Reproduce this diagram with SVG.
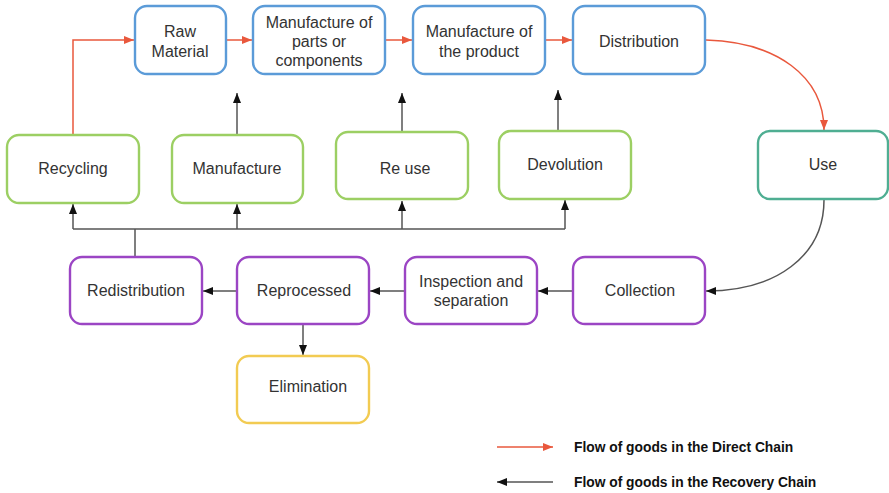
<svg xmlns="http://www.w3.org/2000/svg" width="889" height="493" viewBox="0 0 889 493">
  <style>
    .box { fill: #ffffff; stroke-width: 2.4; }
    .blue { stroke: #5b9bd8; }
    .green { stroke: #9ccf63; }
    .teal { stroke: #4fae92; }
    .purple { stroke: #9b45c4; }
    .yellow { stroke: #f2cb52; }
    .lbl { font-family: "Liberation Sans", Arial, sans-serif; font-size: 16px; fill: #333333; text-anchor: middle; }
    .red { fill: none; stroke: #e9583d; stroke-width: 1.5; }
    .blk { fill: none; stroke: #555555; stroke-width: 1.5; }
    .legend { font-family: "Liberation Sans", Arial, sans-serif; font-size: 13.8px; font-weight: bold; fill: #111111; }
  </style>
  <defs>
    <marker id="ahRed" viewBox="0 0 10 8" refX="10" refY="4" markerWidth="10" markerHeight="8" markerUnits="userSpaceOnUse" orient="auto">
      <path d="M0,0 L10,4 L0,8 Z" fill="#e9583d"/>
    </marker>
    <marker id="ahBlk" viewBox="0 0 10 8" refX="10" refY="4" markerWidth="10" markerHeight="8" markerUnits="userSpaceOnUse" orient="auto">
      <path d="M0,0 L10,4 L0,8 Z" fill="#111111"/>
    </marker>
  </defs>

  <rect width="889" height="493" fill="#ffffff"/>

  <!-- connectors -->
  <g id="connectors">
    <!-- direct chain -->
    <path class="red" d="M73,135 V40 H134" marker-end="url(#ahRed)"/>
    <path class="red" d="M227,40 H252" marker-end="url(#ahRed)"/>
    <path class="red" d="M386,40 H412" marker-end="url(#ahRed)"/>
    <path class="red" d="M546,40 H572" marker-end="url(#ahRed)"/>
    <path class="red" d="M706,40 C776,42 824,76 824,130" marker-end="url(#ahRed)"/>
    <!-- recovery chain -->
    <path class="blk" d="M824,200 C824,256 776,291 706,291" marker-end="url(#ahBlk)"/>
    <path class="blk" d="M572,291 H538" marker-end="url(#ahBlk)"/>
    <path class="blk" d="M404,291 H370" marker-end="url(#ahBlk)"/>
    <path class="blk" d="M236,291 H203" marker-end="url(#ahBlk)"/>
    <path class="blk" d="M303,325 V355" marker-end="url(#ahBlk)"/>
    <!-- distribution bus -->
    <path class="blk" d="M135,256 V229"/>
    <path class="blk" d="M73,229 H565"/>
    <path class="blk" d="M73,229 V204" marker-end="url(#ahBlk)"/>
    <path class="blk" d="M237,229 V204" marker-end="url(#ahBlk)"/>
    <path class="blk" d="M402,229 V201" marker-end="url(#ahBlk)"/>
    <path class="blk" d="M565,229 V200" marker-end="url(#ahBlk)"/>
    <!-- back into the direct chain -->
    <path class="blk" d="M237,134 V93" marker-end="url(#ahBlk)"/>
    <path class="blk" d="M402,131 V93" marker-end="url(#ahBlk)"/>
    <path class="blk" d="M558,130 V90" marker-end="url(#ahBlk)"/>
  </g>

  <!-- direct chain nodes -->
  <g id="raw-material">
    <rect class="box blue" x="135" y="6" width="91" height="68" rx="12"/>
    <text class="lbl" x="180" y="37">Raw</text>
    <text class="lbl" x="180" y="57">Material</text>
  </g>
  <g id="manufacture-parts">
    <rect class="box blue" x="253" y="6" width="132" height="68" rx="12"/>
    <text class="lbl" x="319" y="28">Manufacture of</text>
    <text class="lbl" x="319" y="47">parts or</text>
    <text class="lbl" x="319" y="66">components</text>
  </g>
  <g id="manufacture-product">
    <rect class="box blue" x="413" y="6" width="132" height="68" rx="12"/>
    <text class="lbl" x="479" y="37">Manufacture of</text>
    <text class="lbl" x="479" y="57">the product</text>
  </g>
  <g id="distribution">
    <rect class="box blue" x="573" y="6" width="132" height="68" rx="12"/>
    <text class="lbl" x="639" y="47">Distribution</text>
  </g>
  <g id="use">
    <rect class="box teal" x="758" y="131" width="130" height="68" rx="12"/>
    <text class="lbl" x="823" y="170">Use</text>
  </g>

  <!-- recovery options -->
  <g id="recycling">
    <rect class="box green" x="7" y="135" width="132" height="68" rx="12"/>
    <text class="lbl" x="73" y="174">Recycling</text>
  </g>
  <g id="manufacture">
    <rect class="box green" x="172" y="135" width="131" height="68" rx="12"/>
    <text class="lbl" x="237" y="174">Manufacture</text>
  </g>
  <g id="re-use">
    <rect class="box green" x="336" y="132" width="132" height="67" rx="12"/>
    <text class="lbl" x="405" y="174">Re use</text>
  </g>
  <g id="devolution">
    <rect class="box green" x="499" y="131" width="132" height="68" rx="12"/>
    <text class="lbl" x="565" y="170">Devolution</text>
  </g>

  <!-- reverse logistics -->
  <g id="redistribution">
    <rect class="box purple" x="70" y="257" width="132" height="67" rx="12"/>
    <text class="lbl" x="136" y="296">Redistribution</text>
  </g>
  <g id="reprocessed">
    <rect class="box purple" x="237" y="257" width="132" height="67" rx="12"/>
    <text class="lbl" x="304" y="296">Reprocessed</text>
  </g>
  <g id="inspection">
    <rect class="box purple" x="405" y="257" width="132" height="67" rx="12"/>
    <text class="lbl" x="471" y="287">Inspection and</text>
    <text class="lbl" x="471" y="306">separation</text>
  </g>
  <g id="collection">
    <rect class="box purple" x="573" y="257" width="132" height="67" rx="12"/>
    <text class="lbl" x="640" y="296">Collection</text>
  </g>
  <g id="elimination">
    <rect class="box yellow" x="237" y="356" width="132" height="67" rx="12"/>
    <text class="lbl" x="308" y="392">Elimination</text>
  </g>

  <!-- legend -->
  <g id="legend">
    <path class="red" d="M497,447 H553" marker-end="url(#ahRed)"/>
    <text class="legend" x="574" y="452">Flow of goods in the Direct Chain</text>
    <path class="blk" d="M553,482 H497" marker-end="url(#ahBlk)"/>
    <text class="legend" x="574" y="487">Flow of goods in the Recovery Chain</text>
  </g>
</svg>
